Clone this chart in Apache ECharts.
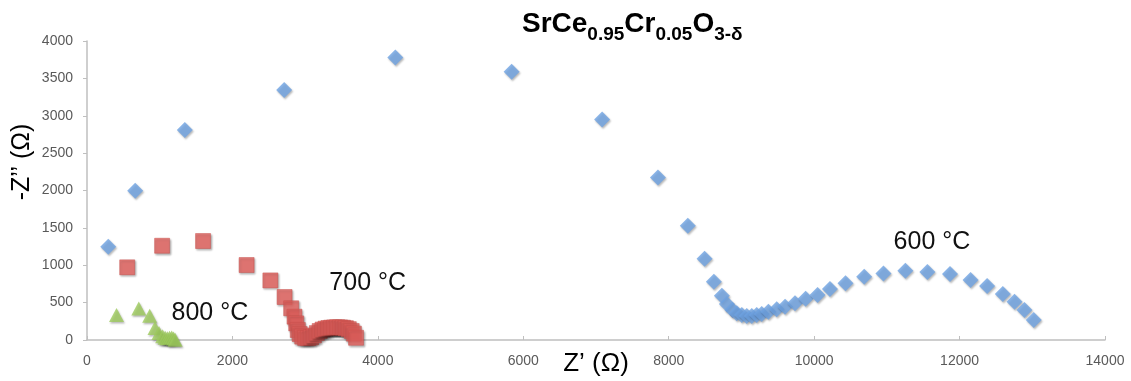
<!DOCTYPE html>
<html>
<head>
<meta charset="utf-8">
<script src="https://cdn.jsdelivr.net/npm/echarts@6/dist/echarts.min.js"></script>
<style>
  html, body { margin: 0; padding: 0; background: #fff; }
  #chart { width: 1131px; height: 381px; }
</style>
</head>
<body>
<div id="chart"></div>
<script>
// Nyquist data, [Z', -Z''] in ohm
const z600 = [[292,1248],[663,1996],[1345,2808],[2712,3343],[4240,3780],[5840,3587],[7084,2951],[7852,2175],[8263,1528],[8493,1087],[8621,780],[8731,593],[8800,481],[8877,401],[8936,357],[9005,334],[9073,321],[9142,321],[9210,334],[9279,348],[9371,379],[9485,410],[9600,446],[9737,490],[9883,552],[10047,602],[10217,682],[10431,758],[10688,845],[10953,891],[11255,927],[11557,909],[11868,882],[12151,802],[12379,722],[12595,615],[12755,512],[12892,401],[13020,267]];
const z700 = [[553,972],[1033,1261],[1596,1324],[2195,1003],[2522,797],[2717,575],[2808,424],[2854,312],[2877,222],[2899,134],[2925,80],[2960,45],[3000,28],[3040,25],[3080,35],[3120,60],[3160,92],[3200,120],[3240,140],[3280,152],[3320,160],[3360,165],[3400,168],[3440,170],[3480,168],[3520,165],[3560,158],[3600,145],[3640,120],[3670,85],[3700,30]];
const z800 = [[406,334],[712,420],[862,325],[935,160],[990,95],[1040,50],[1075,30],[1105,25],[1135,30],[1165,35],[1190,20],[1212,5]];

const tempLabels = [
  { text: "800 °C", coord: [1690, 360] },
  { text: "700 °C", coord: [3860, 760] },
  { text: "600 °C", coord: [11620, 1310] }
];

const xTicks = { min: 0, max: 14000, interval: 2000 };
const yTicks = { min: 0, max: 4000, interval: 500 };

const shadow = {
  shadowBlur: 2,
  shadowColor: "rgba(0,0,0,0.35)",
  shadowOffsetX: 1,
  shadowOffsetY: 1.5
};

let myChart = echarts.init(document.getElementById("chart"));

let option = {
  backgroundColor: "#fff",
  animation: false,
  title: {
    text: "{b|SrCe}{s|0.95}{b|Cr}{s|0.05}{b|O}{s|3-δ}",
    left: 522,
    top: 9,
    padding: 0,
    textStyle: {
      rich: {
        b: { fontFamily: "Liberation Sans", fontWeight: "bold", fontSize: 28, lineHeight: 30, color: "#000" },
        s: { fontFamily: "Liberation Sans", fontWeight: "bold", fontSize: 19, lineHeight: 19, padding: [22, 0, 0, 0], color: "#000" }
      }
    }
  },
  grid: {
    left: 87,
    right: 26,
    top: 41,
    bottom: 41,
    containLabel: false,
    outerBoundsMode: "none"
  },
  graphic: [
    {
      type: "text",
      x: 22,
      y: 162,
      rotation: Math.PI / 2,
      style: {
        text: "-Z’’ (Ω)",
        fontFamily: "Liberation Sans",
        fontSize: 25,
        fill: "#000",
        align: "center",
        verticalAlign: "middle"
      }
    }
  ],
  xAxis: {
    type: "value",
    min: xTicks.min,
    max: xTicks.max,
    interval: xTicks.interval,
    name: "Z’ (Ω)",
    nameLocation: "middle",
    nameGap: 11,
    nameMoveOverlap: false,
    nameTextStyle: { fontFamily: "Liberation Sans", fontSize: 26, color: "#000" },
    splitLine: { show: false },
    axisLine: { show: true, lineStyle: { color: "#bfbfbf", width: 1.5 } },
    axisTick: { show: true, inside: true, length: 4, lineStyle: { color: "#bfbfbf" } },
    axisLabel: {
      color: "#595959", fontFamily: "Liberation Sans", fontSize: 14, margin: 14,
      formatter: function (value) { return String(value); }
    }
  },
  yAxis: {
    type: "value",
    min: yTicks.min,
    max: yTicks.max,
    interval: yTicks.interval,
    splitLine: { show: false },
    axisLine: { show: true, lineStyle: { color: "#bfbfbf", width: 1.5 } },
    axisTick: { show: true, inside: false, length: 4, lineStyle: { color: "#bfbfbf" } },
    axisLabel: {
      color: "#595959", fontFamily: "Liberation Sans", fontSize: 14, margin: 14,
      formatter: function (value) { return String(value); }
    }
  },
  series: [
    {
      name: "600 °C",
      type: "scatter",
      symbol: "diamond",
      symbolSize: 16,
      data: z600,
      itemStyle: Object.assign({ color: "#6ea2e2" }, shadow),
      markPoint: {
        symbol: "rect",
        symbolSize: 0,
        label: { show: true, color: "#111", fontFamily: "Liberation Sans", fontSize: 25, formatter: "{b}" },
        data: tempLabels.map((d) => ({ name: d.text, coord: d.coord }))
      }
    },
    {
      name: "700 °C",
      type: "scatter",
      symbol: "rect",
      symbolSize: 15,
      data: z700,
      itemStyle: Object.assign({ color: "#e6625e", borderColor: "#c9504c", borderWidth: 0.6 }, shadow)
    },
    {
      name: "800 °C",
      type: "scatter",
      symbol: "triangle",
      symbolSize: [15, 14],
      data: z800,
      itemStyle: Object.assign({ color: "#9dcb5c" }, shadow)
    }
  ]
};
myChart.setOption(option);
</script>
</body>
</html>
